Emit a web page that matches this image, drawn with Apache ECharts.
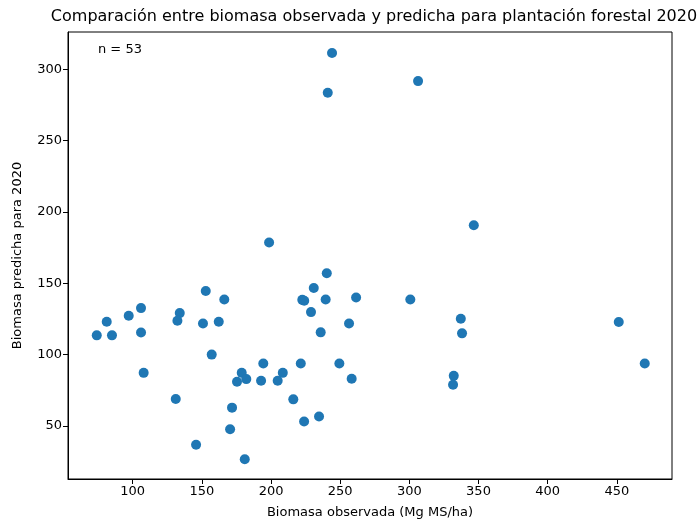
<!DOCTYPE html>
<html>
<head>
<meta charset="utf-8">
<script src="https://cdn.jsdelivr.net/npm/echarts@6/dist/echarts.min.js"></script>
<style>html,body{margin:0;padding:0;background:#fff}#c{width:698px;height:524px}</style>
</head>
<body>
<div id="c"></div>
<script>
const observed = [244.1,241,306.3,198.6,152.8,166.2,106,97.1,81.2,134,132.3,150.8,162.2,346.6,240.3,230.9,222.6,239.5,261.5,300.7,228.9,256.4,337.2,74.0,85.0,106,157.1,107.9,131.1,171.8,170.4,145.8,181,178.8,175.4,182.1,194.4,192.8,204.8,208.5,216.1,235.9,338.1,221.5,249.4,258.3,332.1,331.6,223.9,234.7,451.4,470.2,224.0];
const predicted = [311.5,283.6,291.8,178.6,144.6,138.6,132.6,127.2,123.0,129.1,123.7,121.8,123.0,190.7,157.0,146.7,138.4,138.6,140.0,138.6,129.8,121.8,125.1,113.5,113.5,115.5,100,87.2,68.8,62.8,47.7,36.8,26.6,87.2,81.0,82.8,93.7,81.7,81.7,87.2,68.6,115.6,114.9,93.7,93.7,83.0,85.1,78.9,53.1,56.6,122.8,93.7,137.8];
const xTicks = [100,150,200,250,300,350,400,450];
const yTicks = [50,100,150,200,250,300];
const titleText = 'Comparación entre biomasa observada y predicha para plantación forestal 2020';
const xName = 'Biomasa observada (Mg MS/ha)';
const yName = 'Biomasa predicha para 2020';
const nLabel = 'n = ' + observed.length;

const pts = observed.map((v,i)=>[v,predicted[i]]);
const font = 'DejaVu Sans';
const chart = echarts.init(document.getElementById('c'), null, {renderer:'canvas'});
chart.setOption({
  animation:false,
  backgroundColor:'#fff',
  title:{text:titleText,left:369,textAlign:'center',top:4,textStyle:{fontFamily:font,fontSize:16,fontWeight:'normal',color:'#000'}},
  grid:{left:68,right:26,top:32,bottom:43,show:true,borderColor:'#000',borderWidth:1,backgroundColor:'transparent'},
  xAxis:{type:'value',min:53.2,max:489.9,
    name:xName,nameLocation:'middle',nameGap:27,nameTextStyle:{fontFamily:font,fontSize:13,color:'#000'},
    axisLine:{show:true,lineStyle:{color:'#000'}},
    axisTick:{show:true,customValues:xTicks,length:5,inside:false,lineStyle:{color:'#000'}},
    axisLabel:{customValues:xTicks,fontFamily:font,fontSize:13,color:'#000',margin:6},
    splitLine:{show:false}},
  yAxis:{type:'value',min:12.75,max:326.25,
    name:yName,nameLocation:'middle',nameGap:44,nameTextStyle:{fontFamily:font,fontSize:13,color:'#000'},
    axisLine:{show:true,lineStyle:{color:'#000'}},
    axisTick:{show:true,customValues:yTicks,length:5,inside:false,lineStyle:{color:'#000'}},
    axisLabel:{customValues:yTicks,fontFamily:font,fontSize:13,color:'#000',margin:6},
    splitLine:{show:false}},
  graphic:[{type:'text',left:98,top:43,style:{text:nLabel,fontFamily:font,fontSize:13,fill:'#000'}}],
  series:[{type:'scatter',data:pts,symbolSize:10,itemStyle:{color:'#1f77b4',opacity:1}}]
});
</script>
</body>
</html>
